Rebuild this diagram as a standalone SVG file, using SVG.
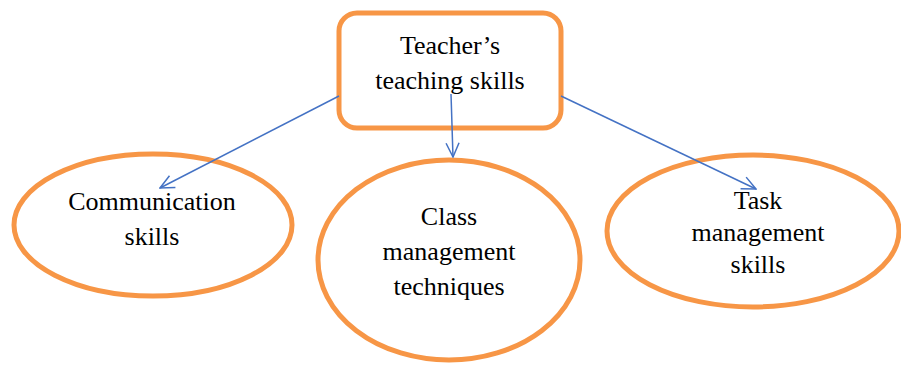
<svg xmlns="http://www.w3.org/2000/svg" width="901" height="369" viewBox="0 0 901 369">
<style>
.node{fill:#fff;stroke:#F79646;stroke-width:5}
.lbl{font-family:'Liberation Serif','Times New Roman','DejaVu Serif',serif;font-size:26px;fill:#000;text-anchor:middle}
.conn{stroke:#4472C4;stroke-width:1.5;fill:none;marker-end:url(#arr)}
</style>
<defs>
<marker id="arr" viewBox="0 0 16 16" refX="15" refY="8" markerWidth="16" markerHeight="16" markerUnits="userSpaceOnUse" orient="auto">
<path d="M1,1.5 L15,8 L1,14.5" fill="none" stroke="#4472C4" stroke-width="1.5"/>
</marker>
</defs>
<rect width="901" height="369" fill="#fff"/>
<g id="n-top">
<rect class="node" x="339" y="13" width="222" height="115" rx="18"/>
<text class="lbl" x="450" y="54" font-family="Liberation Serif, serif">Teacher’s</text>
<text class="lbl" x="450" y="89" font-family="Liberation Serif, serif">teaching skills</text>
</g>
<g id="n-comm">
<ellipse class="node" cx="153" cy="225" rx="139" ry="71"/>
<text class="lbl" x="152" y="210">Communication</text>
<text class="lbl" x="152" y="245">skills</text>
</g>
<g id="n-class">
<ellipse class="node" cx="449" cy="260" rx="131" ry="100"/>
<text class="lbl" x="449" y="225">Class</text>
<text class="lbl" x="449" y="260">management</text>
<text class="lbl" x="449" y="295">techniques</text>
</g>
<g id="n-task">
<ellipse class="node" cx="753" cy="231" rx="146" ry="76"/>
<text class="lbl" x="758" y="209">Task</text>
<text class="lbl" x="758" y="241">management</text>
<text class="lbl" x="758" y="273">skills</text>
</g>
<g id="connectors">
<line class="conn" x1="339" y1="96" x2="160" y2="188"/>
<line class="conn" x1="451" y1="94" x2="453" y2="157"/>
<line class="conn" x1="561" y1="96" x2="756" y2="189"/>
</g>
</svg>
